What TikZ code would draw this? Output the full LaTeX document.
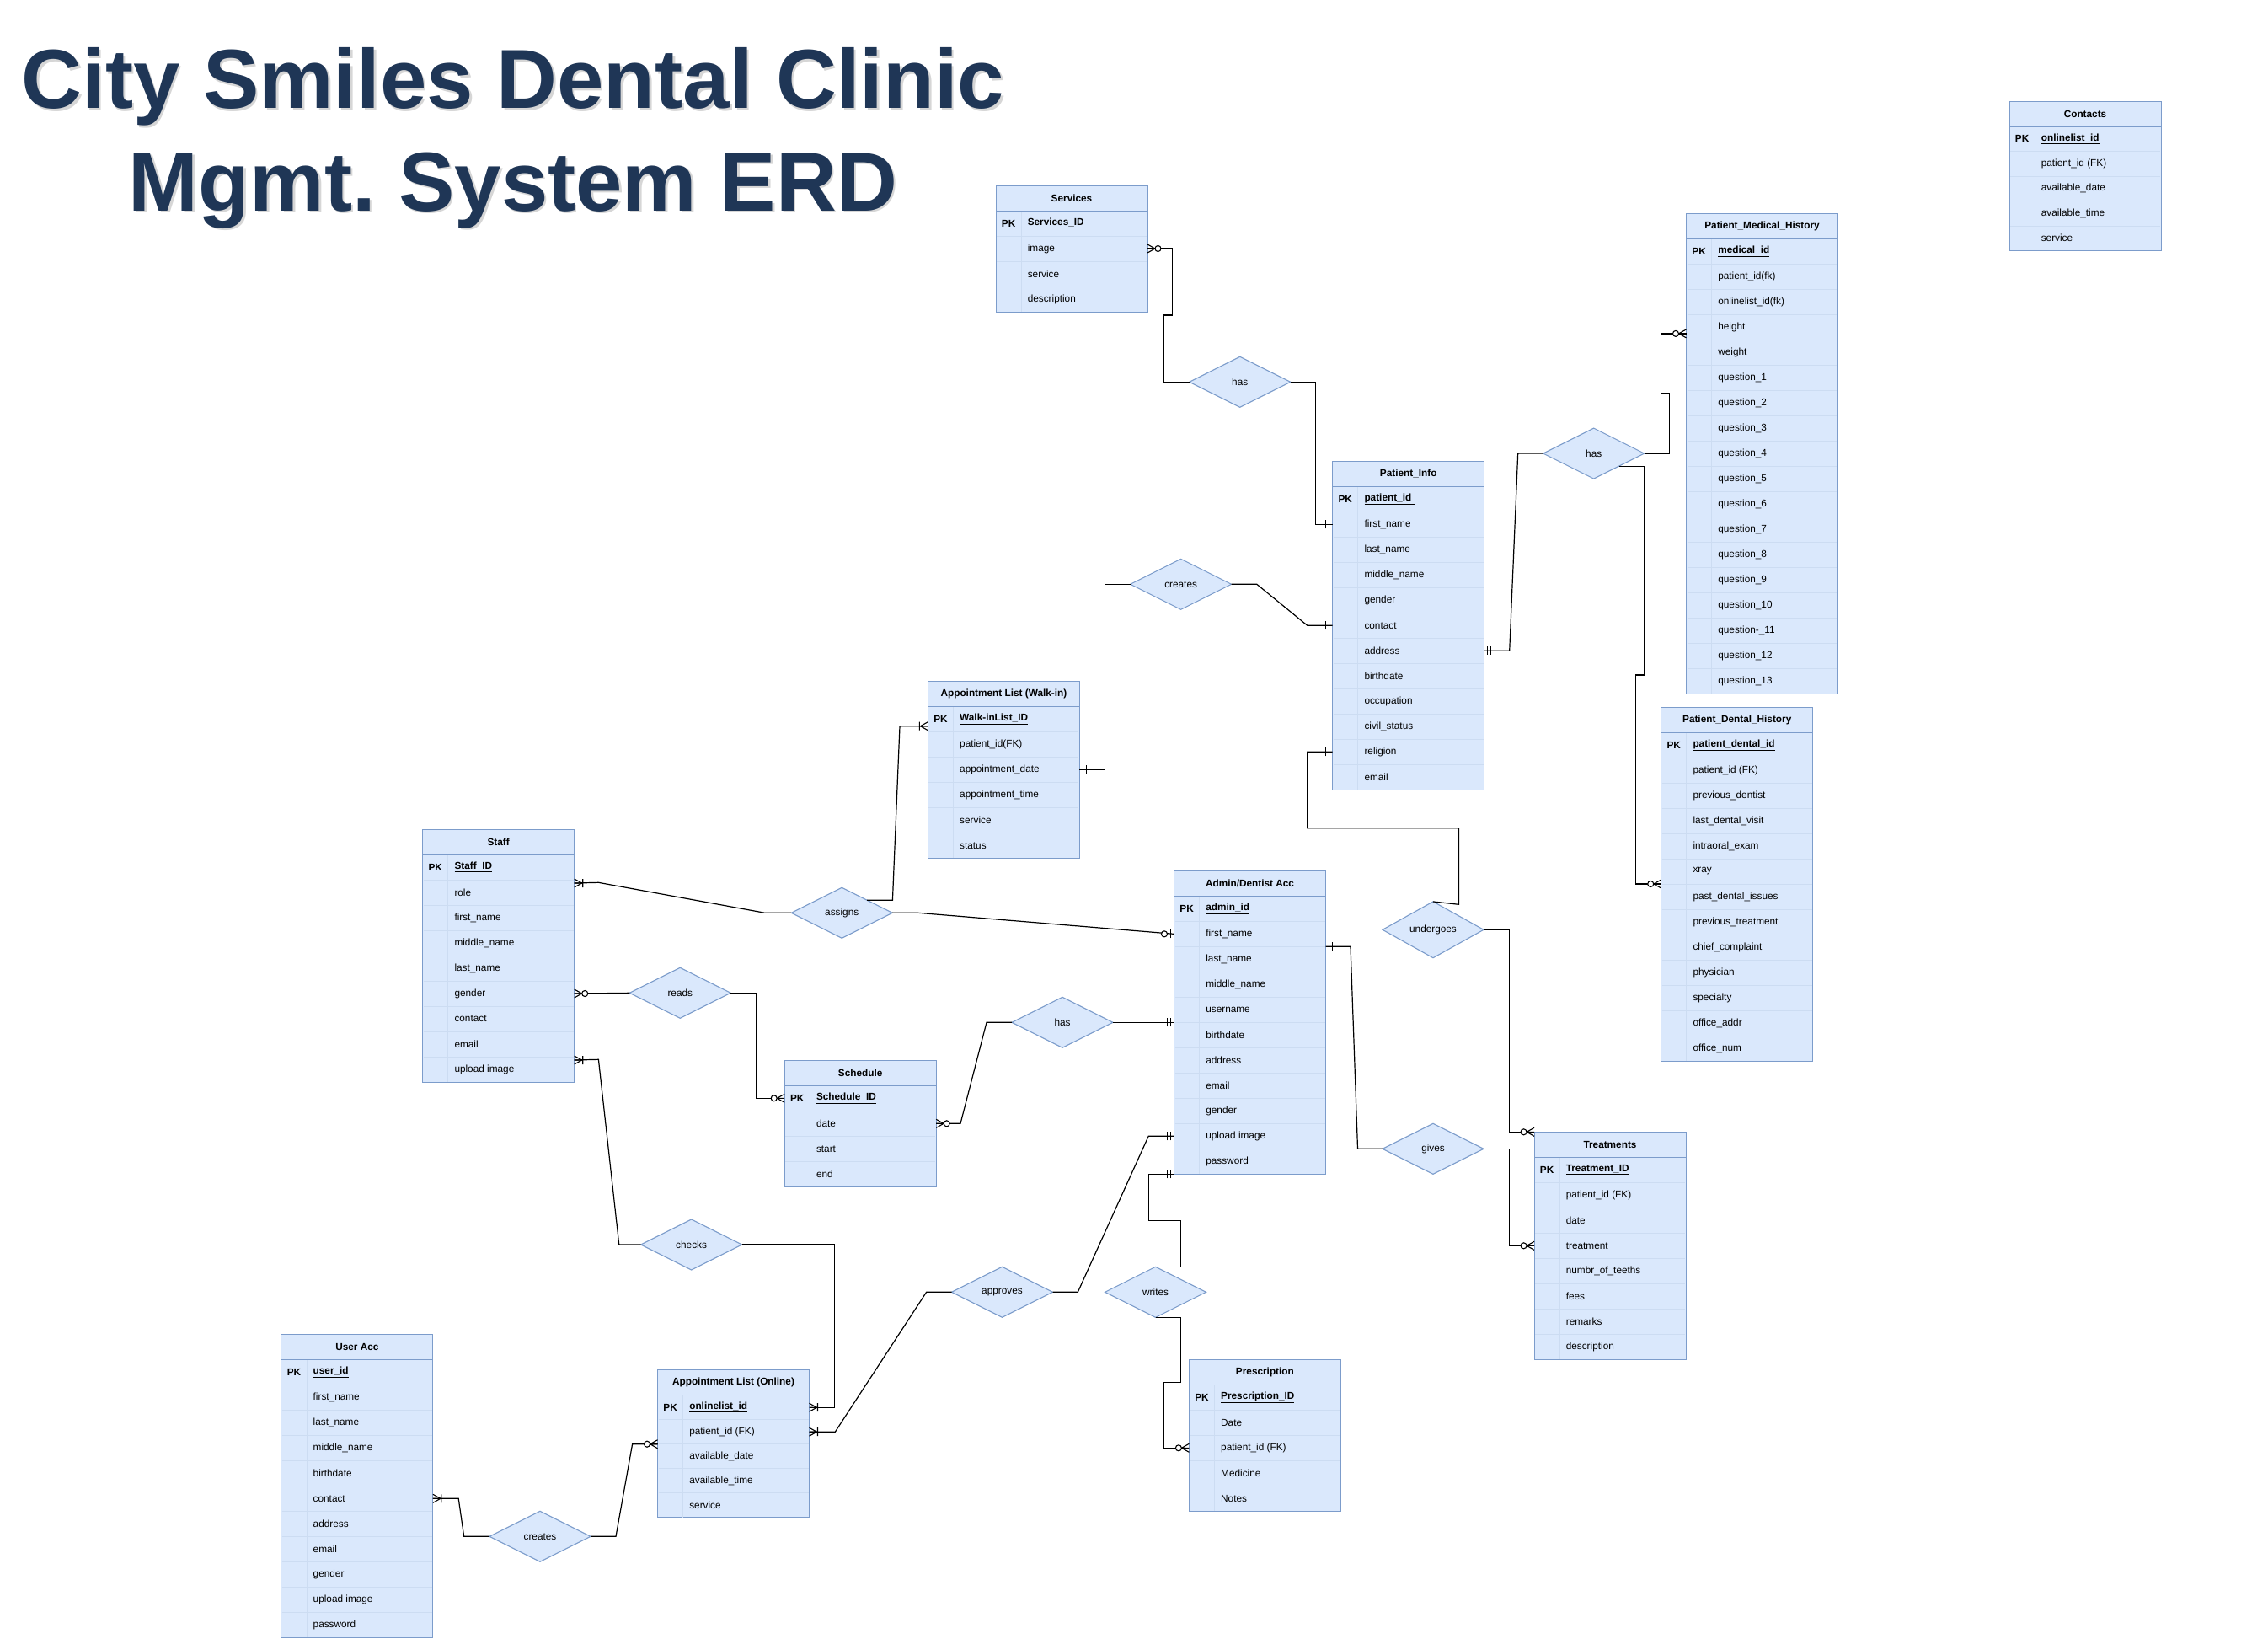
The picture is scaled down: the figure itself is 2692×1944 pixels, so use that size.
\documentclass[tikz,border=0pt]{standalone}
\usepackage{fontspec}
\setmainfont{Liberation Sans}
\usetikzlibrary{shapes.geometric,calc}
\definecolor{tfill}{HTML}{DAE8FC}
\definecolor{tline}{HTML}{7C9CCB}
\definecolor{rline}{HTML}{CCDCF2}
\definecolor{ttl}{HTML}{1F3656}
\newcommand\erfont{\fontsize{11.8}{14}\selectfont}
\newcommand\ttlfont{\fontsize{99.5}{110}\selectfont\bfseries}
\frenchspacing
\catcode`\_=12
\tikzset{
  tab/.style={draw=tline, fill=tfill, line width=1.0, minimum width=180, inner sep=0, outer sep=0},
  tabtitle/.style={font=\erfont\bfseries, inner sep=0},
  fieldtext/.style={font=\erfont, inner sep=0, anchor=west},
  headline/.style={draw=tline, line width=1.0},
  rowline/.style={draw=rline, line width=0.7},
  rel/.style={shape=diamond, draw=tline, fill=tfill, line width=1.1, minimum width=120, minimum height=60, inner sep=0, outer sep=0, font=\erfont},
  conn/.style={draw=black, line width=1.2},
  mone/.pic={\draw[line width=1.1] (4,-5)--(4,5) (8,-5)--(8,5);},
  zmany/.pic={\draw[line width=1.1] (0,-5)--(9,0)--(0,5) (0,0)--(9,0); \draw[line width=1.1, fill=white] (12.5,0) circle (3.5pt);},
  omany/.pic={\draw[line width=1.1] (0,-5)--(9,0)--(0,5) (0,0)--(9,0) (10,-5)--(10,5);},
  zone/.pic={\draw[line width=1.1] (4,-5)--(4,5); \draw[line width=1.1, fill=white] (11.5,0) circle (3.5pt);},
}
% name, x, y, rowh, n, title, pk, fields
\newcommand\erdtab[8]{%
  \pgfmathsetmacro\tabH{30+(#5+1)*#4}%
  \node[tab, minimum height=\tabH, anchor=north west] (#1) at (#2,#3) {};
  \node[tabtitle] (#1-title) at ({#2+90},{#3+15}) {#6};
  \draw[rowline] ({#2+30},{#3+30}) -- ({#2+30},{#3+\tabH});
  \pgfmathsetmacro\yc{#3+30+0.5*#4}%
  \coordinate (#1-0-w) at (#2,\yc);
  \coordinate (#1-0-e) at ({#2+180},\yc);
  \node[fieldtext] (#1-pk) at ({#2+6.7},\yc) {\bfseries PK};
  \node[fieldtext] (#1-pkf) at ({#2+37.6},\yc) {\bfseries\underline{#7}};
  \foreach \f [count=\i] in {#8} {
    \pgfmathsetmacro\yl{#3+30+\i*#4}
    \pgfmathsetmacro\yc{#3+30+(\i+0.5)*#4}
    \draw[rowline] ({#2+1},\yl) -- ({#2+179},\yl);
    \coordinate (#1-\i-w) at (#2,\yc);
    \coordinate (#1-\i-e) at ({#2+180},\yc);
    \node[fieldtext] (#1-f\i) at ({#2+37.6},\yc) {\f};
  }
  \draw[headline] ({#2},{#3+30}) -- ({#2+180},{#3+30});
}
\begin{document}
\begin{tikzpicture}[x=1pt,y=-1pt]
\fill[white] (0,0) rectangle (2692,1944);
\useasboundingbox (0,0) rectangle (2692,1944);

% title
\node[font=\ttlfont, text=black!40, opacity=0.4, anchor=base, inner sep=0] (t1s) at (611.5,131) {City Smiles Dental Clinic};
\node[font=\ttlfont, text=black!40, opacity=0.4, anchor=base, inner sep=0] (t2s) at (611.5,252.5) {Mgmt. System ERD};
\node[font=\ttlfont, text=ttl, anchor=base, inner sep=0] (t1) at (609,128.3) {City Smiles Dental Clinic};
\node[font=\ttlfont, text=ttl, anchor=base, inner sep=0] (t2) at (609,250) {Mgmt. System ERD};

% tables
\erdtab{svc}{1182}{220}{30}{3}{Services}{Services_ID}{image,service,description}
\erdtab{con}{2385}{120}{29.5}{4}{Contacts}{onlinelist_id}{patient_id (FK),available_date,available_time,service}
\erdtab{med}{2001.5}{253.4}{30}{17}{Patient_Medical_History}{medical_id}{patient_id(fk),onlinelist_id(fk),height,weight,question_1,question_2,question_3,question_4,question_5,question_6,question_7,question_8,question_9,question_10,question-_11,question_12,question_13}
\erdtab{pat}{1581.7}{547.3}{30}{11}{Patient_Info}{patient_id }{first_name,last_name,middle_name,gender,contact,address,birthdate,occupation,civil_status,religion,email}
\erdtab{dent}{1971.7}{839}{30}{12}{Patient_Dental_History}{patient_dental_id}{patient_id (FK),previous_dentist,last_dental_visit,intraoral_exam,xray,past_dental_issues,previous_treatment,chief_complaint,physician,specialty,office_addr,office_num}
\erdtab{walk}{1101.4}{808.3}{30}{5}{Appointment List (Walk-in)}{Walk-inList_ID}{patient_id(FK),appointment_date,appointment_time,service,status}
\erdtab{staff}{501.7}{984}{30}{8}{Staff}{Staff_ID}{role,first_name,middle_name,last_name,gender,contact,email,upload image}
\erdtab{adm}{1393.5}{1033.3}{30}{10}{Admin/Dentist Acc}{admin_id}{first_name,last_name,middle_name,username,birthdate,address,email,gender,upload image,password}
\erdtab{sch}{931.2}{1258.3}{30}{3}{Schedule}{Schedule_ID}{date,start,end}
\erdtab{trt}{1821}{1343.3}{30}{7}{Treatments}{Treatment_ID}{patient_id (FK),date,treatment,numbr_of_teeths,fees,remarks,description}
\erdtab{pres}{1411.4}{1613.3}{30}{4}{Prescription}{Prescription_ID}{Date,patient_id (FK),Medicine,Notes}
\erdtab{onl}{780.5}{1625.7}{29}{4}{Appointment List (Online)}{onlinelist_id}{patient_id (FK),available_date,available_time,service}
\erdtab{usr}{333.9}{1583.3}{30}{10}{User Acc}{user_id}{first_name,last_name,middle_name,birthdate,contact,address,email,gender,upload image,password}

% relationships
\node[rel] (hasSvc) at (1471.7,453.3) {has};
\node[rel] (hasMed) at (1891.7,538.1) {has};
\node[rel] (createsW) at (1401.6,693.3) {creates};
\node[rel] (assigns) at (999.2,1083.3) {assigns};
\node[rel] (reads) at (807.3,1178.3) {reads};
\node[rel] (hasSch) at (1261,1213.3) {has};
\node[rel] (undergoes) at (1701,1103.3) {undergoes};
\node[rel] (gives) at (1701,1363.3) {gives};
\node[rel] (checks) at (820.6,1477) {checks};
\node[rel] (approves) at (1189.5,1533.3) {approves};
\node[rel] (writes) at (1371.6,1533.3) {writes};
\node[rel] (createsU) at (641,1823.3) {creates};

% helper coordinates
\coordinate (medc) at ($(med-3-w)+(0,7.5)$);
\coordinate (hm) at ($(hasMed.east)!0.5!(hasMed.south)$);
\coordinate (dentc) at ($(dent-5-w)+(0,15)$);
\coordinate (admg) at ($(adm-1-e)+(0,15)$);
\coordinate (stfa) at ($(staff-1-e)+(0,-11)$);
\coordinate (asg) at ($(assigns.north)!0.5!(assigns.east)$);
\coordinate (walkc) at ($(walk-0-w)+(0,8.4)$);
\coordinate (admh) at ($(adm-4-w)+(0,15)$);
\coordinate (stfc) at ($(staff-8-e)+(0,-11)$);
\coordinate (onlc) at ($(onl-1-w)+(0,14.5)$);

% connectors
\draw[conn] (svc-1-e) -| (1391.7,374) -- (1381.7,374) |- (hasSvc.west);
\draw[conn] (hasSvc.east) -| (1561.7,622.3) -- (pat-1-w);
\draw[conn] (medc) -| (1971.7,467) -| (1981.7,538.1) -- (hasMed.east);
\draw[conn] (hasMed.west) -- (1801.7,538.1) -- (1791.7,772.3) -- (pat-6-e);
\draw[conn] (hm) -| (1951.7,801) -- (1941.7,801) |- (dentc);
\draw[conn] (pat-5-w) -- (1551.8,742.3) -- (1491.8,693.3) -- (createsW.east);
\draw[conn] (createsW.west) -| (1311.4,913.3) -- (walk-2-e);
\draw[conn] (pat-10-w) -| (1551.8,982.7) -| (1731.4,1073.3) -- (undergoes.north);
\draw[conn] (undergoes.east) -| (1791.2,1343.3) -- (trt.north west);
\draw[conn] (admg) -- (1603,1123.3) -- (1611.5,1363.3) -- (gives.west);
\draw[conn] (gives.east) -| (1791.2,1478.3) -- (trt-3-w);
\draw[conn] (stfa) -- (710.4,1047.3) -- (908,1083.3) -- (assigns.west);
\draw[conn] (asg) -- (1059.4,1068.3) -- (1068,861.7) -- (walkc);
\draw[conn] (assigns.east) -- (1090,1083.3) -- (adm-1-w);
\draw[conn] (staff-5-e) -- (reads.west);
\draw[conn] (reads.east) -| (897.3,1303.3) -- (sch-0-w);
\draw[conn] (sch-1-e) -- (1140,1333.3) -- (1171,1213.3) -- (hasSch.west);
\draw[conn] (hasSch.east) -- (admh);
\draw[conn] (stfc) -- (710.4,1257.3) -- (734.8,1477) -- (checks.west);
\draw[conn] (checks.east) -| (990.6,1670.2) -- (onl-0-e);
\draw[conn] (onl-1-e) -- (991.3,1699.2) -- (1099.6,1533.3) -- (approves.west);
\draw[conn] (approves.east) -- (1279.3,1533.3) -- (1363.2,1348.3) -- (adm-9-w);
\draw[conn] (writes.north) -| (1401.4,1448.3) -| (1363.2,1393.3) -- (adm.south west);
\draw[conn] (writes.south) -| (1401.4,1640.7) -| (1381.8,1718.3) -- (pres-2-w);
\draw[conn] (usr-5-e) -- (544.2,1778.3) -- (550.7,1823.3) -- (createsU.west);
\draw[conn] (createsU.east) -- (731,1823.3) -- (750.6,1713.7) -- (onlc);

% markers
\pic[rotate=0] at (svc-1-e) {zmany};
\pic[rotate=180] at (pat-1-w) {mone};
\pic[rotate=180] at (medc) {zmany};
\pic[rotate=0] at (pat-6-e) {mone};
\pic[rotate=180] at (dentc) {zmany};
\pic[rotate=180] at (pat-5-w) {mone};
\pic[rotate=0] at (walk-2-e) {mone};
\pic[rotate=180] at (pat-10-w) {mone};
\pic[rotate=180] at (trt.north west) {zmany};
\pic[rotate=0] at (admg) {mone};
\pic[rotate=180] at (trt-3-w) {zmany};
\pic[rotate=0] at (stfa) {omany};
\pic[rotate=180] at (walkc) {omany};
\pic[rotate=180] at (adm-1-w) {zone};
\pic[rotate=0] at (staff-5-e) {zmany};
\pic[rotate=180] at (sch-0-w) {zmany};
\pic[rotate=0] at (sch-1-e) {zmany};
\pic[rotate=180] at (admh) {mone};
\pic[rotate=0] at (stfc) {omany};
\pic[rotate=0] at (onl-0-e) {omany};
\pic[rotate=0] at (onl-1-e) {omany};
\pic[rotate=180] at (adm-9-w) {mone};
\pic[rotate=180] at (adm.south west) {mone};
\pic[rotate=180] at (pres-2-w) {zmany};
\pic[rotate=0] at (usr-5-e) {omany};
\pic[rotate=180] at (onlc) {zmany};
\end{tikzpicture}
\end{document}
